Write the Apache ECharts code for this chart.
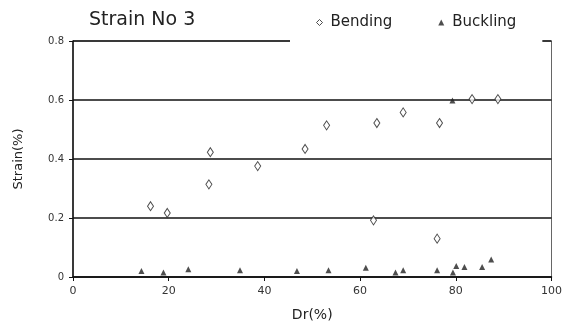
<!DOCTYPE html>
<html><head><meta charset="utf-8">
<script src="https://cdn.jsdelivr.net/npm/echarts@6/dist/echarts.min.js"></script>
<style>html,body{margin:0;padding:0;background:#fff}#c{width:565px;height:327px}</style>
</head><body><div id="c"></div>
<script>
var bendingX = [16.2, 19.7, 28.4, 28.7, 38.6, 48.5, 53.0, 62.8, 63.5, 69.0, 76.1, 76.6, 83.4, 88.8];
var bendingY = [0.240, 0.217, 0.314, 0.423, 0.376, 0.434, 0.514, 0.192, 0.522, 0.558, 0.130, 0.522, 0.603, 0.603];
var bucklingX = [14.3, 18.9, 24.1, 34.9, 46.8, 53.4, 61.2, 67.4, 69.0, 76.1, 79.4, 80.1, 81.8, 85.5, 87.4, 79.3];
var bucklingY = [0.020, 0.015, 0.026, 0.023, 0.020, 0.023, 0.031, 0.015, 0.023, 0.023, 0.015, 0.037, 0.034, 0.034, 0.059, 0.598];
var xTicks = [0, 20, 40, 60, 80, 100];
var yTicks = [0, 0.2, 0.4, 0.6, 0.8];

function pairs(xs, ys){ return xs.map(function(x,i){ return [x, ys[i]]; }); }

var chart = echarts.init(document.getElementById('c'));
var font = 'DejaVu Sans, Verdana, sans-serif';
chart.setOption({
  animation: false,
  backgroundColor: '#fff',
  title: {
    text: 'Strain No 3', left: 84, top: 6,
    textStyle: { fontSize: 19, fontWeight: 'normal', color: '#222', fontFamily: font }
  },
  legend: {
    left: 290, top: 7,
    padding: [8, 26, 14, 26],
    backgroundColor: '#fff',
    itemWidth: 6, itemHeight: 6, itemGap: 46,
    textStyle: { fontSize: 15, color: '#222', fontFamily: font, padding: [0,0,0,3] },
    data: [
      { name: 'Bending', icon: 'diamond', itemStyle: { color: '#fff', borderColor: '#222', borderWidth: 1 } },
      { name: 'Buckling', icon: 'triangle', itemStyle: { color: '#222' } }
    ],
    z: 10
  },
  grid: { left: 73, right: 13, top: 41, bottom: 46, show: true, borderColor: '#666', borderWidth: 1 },
  xAxis: {
    type: 'value', min: 0, max: 100, interval: 20,
    name: 'Dr(%)', nameLocation: 'middle', nameGap: 31,
    nameTextStyle: { fontSize: 14, color: '#222', fontFamily: font },
    axisLine: { show: true, onZero: false, lineStyle: { color: '#111', width: 1.5 } },
    axisTick: { show: true, length: 4, lineStyle: { color: '#111' } },
    axisLabel: { fontSize: 11, color: '#333', fontFamily: font, margin: 9,
      formatter: function(v){ return xTicks.indexOf(v) >= 0 ? String(v) : ''; } },
    splitLine: { show: false }
  },
  yAxis: {
    type: 'value', min: 0, max: 0.8, interval: 0.2,
    name: 'Strain(%)', nameLocation: 'middle', nameGap: 48,
    nameTextStyle: { fontSize: 13, color: '#222', fontFamily: font },
    axisLine: { show: true, lineStyle: { color: '#111', width: 1.5 } },
    axisTick: { show: true, length: 4, lineStyle: { color: '#111' } },
    axisLabel: { fontSize: 10, color: '#333', fontFamily: font, margin: 9,
      formatter: function(v){ var r = Math.round(v*10)/10; return yTicks.indexOf(r) >= 0 ? String(r) : ''; } },
    splitLine: { show: true, lineStyle: { color: '#111', width: 1.5 } }
  },
  series: [
    { name: 'Bending', type: 'scatter', symbol: 'diamond', symbolSize: [6, 9],
      itemStyle: { color: '#fff', borderColor: '#222', borderWidth: 1 },
      data: pairs(bendingX, bendingY), z: 3 },
    { name: 'Buckling', type: 'scatter', symbol: 'triangle', symbolSize: [6, 6],
      itemStyle: { color: '#222' },
      data: pairs(bucklingX, bucklingY), z: 4 }
  ]
});
</script></body></html>
